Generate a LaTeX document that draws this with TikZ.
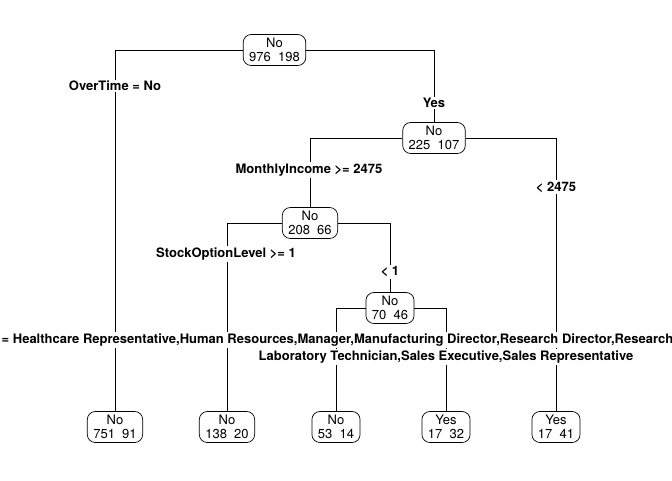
\documentclass[tikz,border=0pt]{standalone}
\usepackage{fontspec}
\setmainfont{TeX Gyre Heros}
\begin{document}
\begin{tikzpicture}[x=1pt,y=-1pt,
  box/.style={draw,rounded corners=8pt,line width=0.7pt,align=center,
    inner xsep=6pt,inner ysep=3pt,minimum height=31pt,
    font=\fontsize{13}{14.2}\selectfont},
  lab/.style={fill=white,inner sep=1.5pt,font=\bfseries\fontsize{13}{14}\selectfont},
  edge/.style={line width=0.7pt}]
\useasboundingbox (0,0) rectangle (672,480);
% nodes
\node[box] (root) at (274.5,50) {No\\976~~198};
\node[box] (n2) at (434,138) {No\\225~~107};
\node[box] (n3) at (310,223) {No\\208~~66};
\node[box] (n4) at (390,308) {No\\70~~46};
\node[box] (l1) at (115,427) {No\\751~~91};
\node[box] (l2) at (227,427) {No\\138~~20};
\node[box] (l3) at (336,427) {No\\53~~14};
\node[box] (l4) at (446,427) {Yes\\17~~32};
\node[box] (l5) at (556,427) {Yes\\17~~41};
% connectors
\draw[edge] (root.west) -| (l1.north);
\draw[edge] (root.east) -| (n2.north);
\draw[edge] (n2.west) -| (n3.north);
\draw[edge] (n2.east) -| (l5.north);
\draw[edge] (n3.west) -| (l2.north);
\draw[edge] (n3.east) -| (n4.north);
\draw[edge] (n4.west) -| (l3.north);
\draw[edge] (n4.east) -| (l4.north);
% labels
\node[lab] (t1) at (115,86) {OverTime = No};
\node[lab] (t2) at (434,103) {Yes};
\node[lab] (t3) at (309,170) {MonthlyIncome >= 2475};
\node[lab] (t4) at (556,187) {< 2475};
\node[lab] (t5) at (226,254) {StockOptionLevel >= 1};
\node[lab] (t6) at (390,272) {< 1};
\node[lab,anchor=west] (t7) at (0,340) {= Healthcare Representative,Human Resources,Manager,Manufacturing Director,Research Director,Research};
\node[lab] (t8) at (446,357) {Laboratory Technician,Sales Executive,Sales Representative};
\end{tikzpicture}
\end{document}
